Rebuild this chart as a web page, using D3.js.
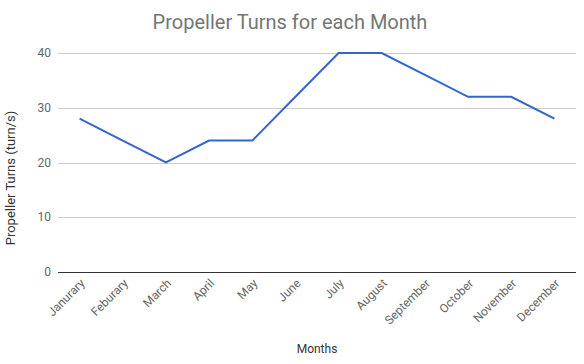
<!DOCTYPE html>
<html>
<head>
<meta charset="utf-8">
<script src="https://cdn.jsdelivr.net/npm/d3@7"></script>
<style>
  body { margin: 0; background: #fff; }
  text { font-family: Roboto, Arial, sans-serif; }
</style>
</head>
<body>
<div id="chart"></div>
<script>
var months = ["Janurary", "Feburary", "March", "April", "May", "June", "July",
              "August", "September", "October", "November", "December"];
var turns = [28, 24, 20, 24, 24, 32, 40, 40, 36, 32, 32, 28];
var yTicks = [0, 10, 20, 30, 40];

var W = 584, H = 364;
var margin = {top: 53, right: 8, bottom: 92, left: 58};
var width = W - margin.left - margin.right,
    height = H - margin.top - margin.bottom;

var svg = d3.select("#chart").append("svg")
    .attr("width", W)
    .attr("height", H);

var g = svg.append("g")
    .attr("transform", "translate(" + margin.left + "," + margin.top + ")");

var x = d3.scaleBand().domain(months).range([0, width]);
var y = d3.scaleLinear().domain([0, 40]).range([height, 0]);

// gridlines
g.selectAll(".grid")
    .data(yTicks)
    .enter().append("line")
    .attr("x1", 0).attr("x2", width)
    .attr("y1", function(d) { return Math.round(y(d)) + 0.5; })
    .attr("y2", function(d) { return Math.round(y(d)) + 0.5; })
    .attr("stroke", function(d) { return d === 0 ? "#333" : "#ccc"; })
    .attr("stroke-width", 1);

// y tick labels
g.selectAll(".ylab")
    .data(yTicks)
    .enter().append("text")
    .attr("x", -7)
    .attr("y", function(d) { return y(d); })
    .attr("dy", "0.35em")
    .attr("text-anchor", "end")
    .attr("font-size", 12)
    .attr("fill", "#666")
    .text(function(d) { return d; });

// x tick labels
g.selectAll(".xlab")
    .data(months)
    .enter().append("text")
    .attr("text-anchor", "end")
    .attr("font-size", 12)
    .attr("fill", "#666")
    .attr("transform", function(d) {
        return "translate(" + (x(d) + x.bandwidth() / 2 + 6) + "," + (height + 12) + ") rotate(-45)";
    })
    .text(function(d) { return d; });

// line
var line = d3.line()
    .x(function(d, i) { return x(months[i]) + x.bandwidth() / 2; })
    .y(function(d) { return y(d); });

g.append("path")
    .datum(turns)
    .attr("fill", "none")
    .attr("stroke", "#3366cc")
    .attr("stroke-width", 2)
    .attr("d", line);

// titles
svg.append("text")
    .attr("x", 290)
    .attr("y", 29)
    .attr("text-anchor", "middle")
    .attr("font-size", 20)
    .attr("fill", "#757575")
    .text("Propeller Turns for each Month");

svg.append("text")
    .attr("x", margin.left + width / 2)
    .attr("y", 353)
    .attr("text-anchor", "middle")
    .attr("font-size", 12)
    .attr("fill", "#333")
    .text("Months");

svg.append("text")
    .attr("transform", "translate(15,178) rotate(-90)")
    .attr("text-anchor", "middle")
    .attr("font-size", 13)
    .attr("fill", "#333")
    .text("Propeller Turns (turn/s)");
</script>
</body>
</html>
